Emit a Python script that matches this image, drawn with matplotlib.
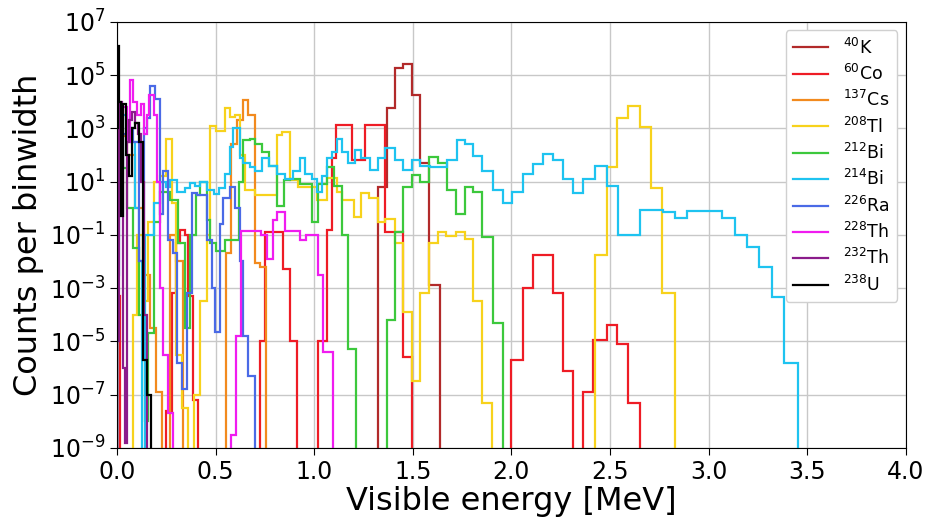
import numpy as np
import matplotlib
matplotlib.use("Agg")
import matplotlib.pyplot as plt
from matplotlib.ticker import FixedLocator, LogFormatterSciNotation, NullLocator

# ---- data: per isotope bin edges [MeV] and log10(counts per binwidth); None = empty bin ----
labels = [r"$^{40}$K", r"$^{60}$Co", r"$^{137}$Cs", r"$^{208}$Tl", r"$^{212}$Bi",
          r"$^{214}$Bi", r"$^{226}$Ra", r"$^{228}$Th", r"$^{232}$Th", r"$^{238}$U"]
colors = ["#b22a2a", "#ee1c25", "#f28a1e", "#f7d21c", "#3cc83c",
          "#1ec3f0", "#4a6ae6", "#f01cf0", "#8b1c8b", "#000000"]

k40_edges = [1.325, 1.367, 1.41, 1.452, 1.494, 1.537, 1.58, 1.64]
k40_logc = [0.8, 3.76, 5.27, 5.4, 4.26, 1.7, -2.9]

co60_edges = [0.0, 0.015, 0.25, 0.28, 0.30, 0.32, 0.345, 0.36, 0.385, 0.41, 0.725, 0.75, 0.84,
              0.88, 0.915, 1.02, 1.065, 1.09, 1.11, 1.19, 1.26, 1.36, 1.41, 1.45, 1.494, 2.0,
              2.06, 2.11, 2.21, 2.26, 2.314, 2.365, 2.415, 2.483, 2.534, 2.593, 2.652]
co60_logc = [-3.3, None, -7.6, -3.2, -1.3, -0.8, -1.0, -3.3, -7.2, None, -5.0, -0.9, -2.3,
             -5.0, None, -5.0, -0.8, 1.9, 3.13, 1.8, 3.13, -0.9, -0.9, -5.6, None, -5.7,
             -3.0, -1.76, -3.2, -6.1, None, -6.9, -4.95, -4.4, -5.1, -7.3]

cs137_edges = [0.0, 0.02, 0.05, 0.09, 0.13, 0.17, 0.20, 0.23, 0.27, 0.30, 0.335, 0.555,
               0.58, 0.61, 0.64, 0.665, 0.70, 0.725, 0.755]
cs137_logc = [0.5, 2.7, 2.0, 0.0, -2.5, -4.5, -6.9, None, -1.0, -2.0, None, -1.7,
              2.4, 3.3, 4.07, 3.5, -2.05, -2.2]

tl208_edges = [0.08, 0.10, 0.13, 0.16, 0.19, 0.22, 0.25, 0.28, 0.30, 0.33, 0.36, 0.39, 0.42,
               0.455, 0.47, 0.50, 0.55, 0.575, 0.60, 0.625, 0.65, 0.675, 0.70, 0.81, 0.835,
               0.877, 0.92, 1.013, 1.063, 1.114, 1.14, 1.2, 1.24, 1.28, 1.325, 1.36, 1.41,
               1.452, 1.494, 1.537, 1.585, 1.63, 1.67, 1.72, 1.765, 1.807, 1.849, 1.9,
               2.424, 2.483, 2.534, 2.593, 2.652, 2.71, 2.765, 2.83]
tl208_logc = [-4.0, -1.0, -3.5, -0.5, 1.0, 1.2, 2.6, 0.2, -5.5, -7.5, None, -7.0, -3.5,
              -1.0, 3.1, 2.9, 3.76, 3.43, 3.5, 2.0, 0.7, 0.68, 0.5, 2.75, 2.87,
              1.06, 0.8, 0.3, 1.15, 0.6, 0.3, -0.33, 0.57, 0.4, -0.5, -0.4, -1.3,
              -3.9, -6.5, -3.2, -1.3, -0.9, -1.05, -0.9, -1.15, -3.5, -7.3, None,
              -1.76, 1.55, 3.38, 3.84, 3.06, 0.77, -3.2]

bi212_edges = [0.0, 0.02, 0.05, 0.08, 0.11, 0.14, 0.16, 0.19, 0.22, 0.27, 0.31, 0.345, 0.37,
               0.40, 0.42, 0.455, 0.47, 0.50, 0.55, 0.62, 0.64, 0.674, 0.70, 0.734, 0.77,
               0.81, 0.845, 0.877, 0.93, 0.987, 1.02, 1.063, 1.1, 1.14, 1.173, 1.21, 1.368,
               1.41, 1.452, 1.494, 1.537, 1.585, 1.63, 1.672, 1.72, 1.765, 1.807, 1.849,
               1.908, 1.96]
bi212_logc = [2.0, 1.5, 0.0, -1.5, -4.0, -8.0, -4.7, -0.5, 0.6, 0.3, -1.3, -4.5, -1.0,
              0.5, 1.0, -0.45, -1.3, -1.6, -1.2, 1.0, 2.56, 2.6, 2.4, 2.1, 1.6,
              0.1, 1.06, 1.1, 0.9, -0.5, 0.9, 1.55, 0.85, -1.0, -5.3, None, -4.2,
              -0.9, 0.8, 1.24, 1.0, 1.93, 1.7, 0.7, -0.2, 0.8, 0.6, -1.07, -4.3]

bi214_edges = [0.0, 0.01, 0.03, 0.05, 0.07, 0.09, 0.11, 0.125, 0.14, 0.19, 0.22, 0.25, 0.269,
               0.303, 0.345, 0.37, 0.395, 0.42, 0.455, 0.49, 0.52, 0.548, 0.573, 0.59, 0.624,
               0.64, 0.674, 0.70, 0.734, 0.77, 0.81, 0.85, 0.894, 0.928, 0.953, 0.987, 1.013,
               1.038, 1.063, 1.09, 1.114, 1.14, 1.173, 1.207, 1.24, 1.283, 1.325, 1.359,
               1.41, 1.452, 1.494, 1.537, 1.587, 1.672, 1.723, 1.765, 1.807, 1.849, 1.908,
               1.959, 2.001, 2.06, 2.111, 2.162, 2.212, 2.263, 2.314, 2.365, 2.424, 2.483,
               2.542, 2.652, 2.77, 2.83, 2.889, 3.066, 3.134, 3.193, 3.257, 3.32, 3.384, 3.455]
bi214_logc = [-2.5, 1.5, 3.5, 3.0, 2.5, 0.0, -2.0, None, -1.0, 0.2, 1.0, 0.8, 1.06,
              0.6, 0.75, 0.95, 0.85, 1.0, 0.68, 0.55, 0.75, 1.3, 2.3, 3.0, 1.9,
              1.7, 1.55, 1.4, 1.9, 1.6, 1.3, 1.1, 1.4, 1.9, 1.3, 1.1, 0.6,
              1.2, 1.9, 2.1, 2.6, 2.1, 1.7, 2.19, 1.9, 1.43, 1.9, 2.26,
              1.8, 1.45, 1.8, 1.6, 1.55, 1.8, 2.56, 2.4, 1.95, 1.4, 0.68,
              0.2, 0.6, 1.3, 1.65, 2.04, 1.8, 1.1, 0.57, 1.1, 1.6, 0.85,
              -1.0, -0.07, -0.15, -0.37, -0.1, -0.37, -1.0, -1.46, -2.2, -3.34, -5.8]

ra226_edges = [0.0, 0.02, 0.05, 0.08, 0.11, 0.135, 0.155, 0.167, 0.193, 0.218, 0.235, 0.26,
               0.286, 0.303, 0.328, 0.353, 0.379, 0.404, 0.455, 0.48, 0.497, 0.522, 0.539,
               0.573, 0.598, 0.624, 0.64, 0.666, 0.70]
ra226_logc = [0.0, 2.8, 3.0, 2.5, -2.0, 3.0, 3.4, 4.6, 4.1, -0.2, 1.4, -1.2,
              -1.7, -5.8, -6.8, -3.2, 0.57, 0.5, -1.2, -3.0, -4.65, -0.6, 0.38,
              0.8, 0.0, -2.0, -4.8, -6.3]

th228_edges = [0.0, 0.015, 0.03, 0.05, 0.065, 0.08, 0.10, 0.12, 0.135, 0.15, 0.165, 0.19,
               0.205, 0.22, 0.235, 0.26, 0.285, 0.58, 0.605, 0.63, 0.73, 0.76, 0.79, 0.81,
               0.85, 0.93, 0.96, 1.02, 1.045, 1.095]
th228_logc = [2.0, 3.5, 3.8, 2.5, 4.8, 4.0, 3.5, 3.9, 2.8, 3.5, 4.25, 3.5,
              1.0, -3.0, -5.5, -7.7, None, -8.5, -4.8, -0.85, -1.0, -1.9, -0.45, -0.15,
              -0.85, -1.2, -1.0, -2.5, -5.4]

th232_edges = [0.0, 0.008, 0.016, 0.024, 0.032, 0.04, 0.05, 0.06, 0.075, 0.09, 0.105, 0.12,
               0.135, 0.15]
th232_logc = [-5.0, 3.2, 4.0, 2.0, -6.0, -8.8, 2.5, 3.3, 3.6, 3.2, 2.8, 1.0, -4.0]

u238_edges = [0.0, 0.005, 0.012, 0.02, 0.03, 0.045, 0.06, 0.075, 0.09, 0.11, 0.13, 0.15, 0.175]
u238_logc = [3.0, 6.1, 4.0, -0.3, 3.9, 2.0, 1.2, 3.0, 3.2, 2.5, -5.7, -7.0]

all_edges = [k40_edges, co60_edges, cs137_edges, tl208_edges, bi212_edges,
             bi214_edges, ra226_edges, th228_edges, th232_edges, u238_edges]
all_logc = [k40_logc, co60_logc, cs137_logc, tl208_logc, bi212_logc,
            bi214_logc, ra226_logc, th228_logc, th232_logc, u238_logc]

xticks = [0.0, 0.5, 1.0, 1.5, 2.0, 2.5, 3.0, 3.5, 4.0]
ytick_exp = [-9, -7, -5, -3, -1, 1, 3, 5, 7]

# ---- plot ----
fig = plt.figure(figsize=(9.28, 5.19), dpi=100)
ax = fig.add_axes([0.126, 0.137, 0.850, 0.821])

EMPTY = 1e-14
for edges, logc, lab, col in zip(all_edges, all_logc, labels, colors):
    vals = np.array([EMPTY if v is None else 10.0 ** v for v in logc])
    ax.stairs(vals, np.array(edges), baseline=EMPTY, color=col, lw=1.6, label=lab)

ax.set_yscale("log")
ax.set_xlim(0, 4.0)
ax.set_ylim(1e-9, 1e7)
ax.xaxis.set_major_locator(FixedLocator(xticks))
ax.set_xticklabels([f"{t:.1f}" for t in xticks])
ax.yaxis.set_major_locator(FixedLocator([10.0 ** e for e in ytick_exp]))
ax.yaxis.set_major_formatter(LogFormatterSciNotation())
ax.yaxis.set_minor_locator(NullLocator())
ax.tick_params(axis="both", labelsize=17, length=5)
ax.grid(True, color="#c8c8c8", lw=1.0)
ax.set_axisbelow(True)
ax.set_xlabel("Visible energy [MeV]", fontsize=23, labelpad=2)
ax.set_ylabel("Counts per binwidth", fontsize=23, labelpad=4)

ax.legend(loc="upper right", fontsize=12.5, handlelength=2.0, handletextpad=0.9,
          labelspacing=0.36, borderaxespad=0.5, framealpha=1.0, edgecolor="#d0d0d0",
          fancybox=True)

fig.savefig("out.png", dpi=100)
